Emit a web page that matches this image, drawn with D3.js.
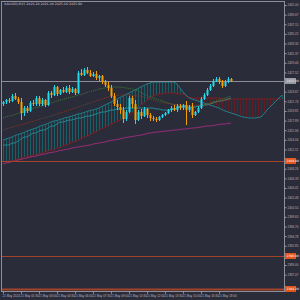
<!DOCTYPE html>
<html>
<head>
<meta charset="utf-8">
<script src="https://cdn.jsdelivr.net/npm/d3@7"></script>
<style>
  html, body { margin: 0; padding: 0; background: #2b2c3a; }
  svg { display: block; }
</style>
</head>
<body>
<div id="chart"></div>
<script>
// XAUUSD M15 bars
const opens  = [2421.2,2421.6,2422.0,2421.8,2422.8,2422.2,2421.6,2419.4,2420.4,2419.8,2421.4,2421.2,2422.4,2421.2,2422.0,2421.0,2423.4,2423.0,2424.6,2423.2,
                2424.0,2423.6,2424.4,2423.6,2424.2,2423.4,2427.4,2427.0,2428.0,2427.4,2426.8,2427.2,2426.4,2426.8,2425.6,2425.0,2424.4,2422.8,2421.2,2420.6,
                2420.0,2418.2,2419.6,2422.4,2421.2,2418.0,2419.6,2418.8,2420.2,2419.0,2418.4,2418.2,2418.0,2418.6,2419.0,2419.4,2420.0,2420.4,2420.0,2420.8,
                2420.4,2421.0,2420.0,2420.6,2419.0,2419.6,2420.4,2422.2,2423.0,2424.0,2424.8,2425.8,2426.2,2425.6,2424.8,2425.6,2426.2];
const highs  = [2421.8,2422.2,2422.4,2423.2,2423.4,2422.6,2422.4,2420.8,2420.8,2421.8,2422.0,2422.8,2422.8,2422.4,2422.2,2423.8,2423.8,2425.0,2424.8,2424.2,
                2424.6,2424.8,2425.0,2424.6,2424.4,2427.8,2428.2,2428.4,2428.6,2428.0,2427.6,2427.8,2427.0,2427.0,2426.0,2425.6,2425.0,2423.4,2422.0,2421.2,
                2420.6,2420.0,2422.8,2422.8,2422.0,2420.0,2420.2,2420.6,2420.4,2419.4,2418.8,2418.6,2418.8,2419.2,2419.6,2420.2,2420.8,2421.0,2421.2,2421.2,
                2421.2,2421.8,2421.0,2421.4,2419.8,2420.8,2422.6,2423.4,2424.4,2425.2,2426.2,2426.6,2426.6,2426.0,2426.0,2426.6,2426.4];
const lows   = [2420.8,2421.2,2421.4,2421.6,2422.0,2421.2,2418.0,2418.8,2419.4,2419.6,2420.8,2420.8,2420.8,2420.8,2420.6,2420.8,2422.4,2422.8,2422.8,2423.0,
                2423.4,2423.4,2423.2,2423.4,2423.0,2423.2,2426.8,2426.8,2427.2,2426.6,2426.6,2426.0,2425.8,2425.2,2424.6,2423.8,2422.4,2420.8,2420.0,2419.2,
                2417.4,2417.8,2419.4,2420.4,2417.2,2417.8,2418.2,2418.6,2418.4,2417.8,2417.8,2417.6,2417.8,2418.4,2418.8,2419.2,2419.6,2419.8,2419.6,2420.0,
                2420.0,2417.0,2419.6,2418.4,2418.8,2419.4,2420.2,2422.0,2422.8,2423.8,2424.6,2425.6,2425.2,2424.4,2424.6,2425.4,2425.6];
const closes = [2421.6,2422.0,2421.8,2422.8,2422.2,2421.6,2419.4,2420.4,2419.8,2421.4,2421.2,2422.4,2421.2,2422.0,2421.0,2423.4,2423.0,2424.6,2423.2,2424.0,
                2423.6,2424.4,2423.6,2424.2,2423.4,2427.4,2427.0,2428.0,2427.4,2426.8,2427.2,2426.4,2426.8,2425.6,2425.0,2424.4,2422.8,2421.2,2420.6,2420.0,
                2418.2,2419.6,2422.4,2421.2,2418.0,2419.6,2418.8,2420.2,2419.0,2418.4,2418.2,2418.0,2418.6,2419.0,2419.4,2420.0,2420.4,2420.0,2420.8,2420.4,
                2421.0,2420.0,2420.6,2419.0,2419.6,2420.4,2422.2,2423.0,2424.0,2424.8,2425.8,2426.2,2425.6,2424.8,2425.6,2426.2,2425.8];

// moving averages (dotted green, dotted brown, solid magenta) and kijun
const greenMA = [2418.4,2418.6,2418.8,2418.9,2419.1,2419.3,2419.5,2419.7,2419.9,2420.1,2420.3,2420.5,2420.6,2420.8,2421.0,2421.2,2421.4,
                 2421.6,2421.8,2422.0,2422.1,2422.3,2422.5,2422.6,2422.8,2423.0,2423.1,2423.3,2423.5,2423.7,2423.8,2424.0,2424.2,
                 2424.3,2424.4,2424.5,2424.5,2424.6,2424.6,2424.6,2424.5,2424.4,2424.3,2424.2,2424.0,2423.8,2423.5,2423.2,2422.9,2422.6,
                 2422.4,2422.2,2422.0,2421.8,2421.6,2421.4,2421.2,2421.1,2421.0,2420.9,2420.7,2420.6,2420.6,2420.6,2420.6,
                 2420.7,2420.9,2421.0,2421.2,2421.4,2421.6,2421.8,2422.0,2422.2,2422.4,2422.6,2422.8];
const brownMA = [2416.0,2416.2,2416.4,2416.5,2416.7,2416.9,2417.0,2417.2,2417.4,2417.6,2417.7,2417.9,2418.1,2418.3,2418.4,2418.6,2418.8,
                 2419.0,2419.2,2419.4,2419.6,2419.8,2420.0,2420.2,2420.4,2420.6,2420.8,2421.0,2421.2,2421.4,2421.6,2421.8,2422.0,
                 2422.2,2422.4,2422.6,2422.7,2422.8,2422.9,2423.0,2423.0,2423.0,2423.0,2422.9,2422.9,2422.8,2422.8,
                 2422.6,2422.4,2422.2,2422.0,2421.8,2421.6,2421.5,2421.4,2421.3,2421.2,2421.1,2421.0,2420.9,2420.8,2420.8,
                 2420.8,2420.9,2420.9,2421.0,2421.0,2421.1,2421.2,2421.3,2421.5,2421.6,2421.7,2421.8,2421.9,2422.0,2422.2];
const pinkMA  = [2409.2,2409.4,2409.5,2409.7,2409.8,2410.0,2410.1,2410.3,2410.4,2410.6,2410.7,2410.8,2411.0,2411.1,2411.2,2411.4,2411.5,
                 2411.6,2411.7,2411.9,2412.0,2412.1,2412.2,2412.4,2412.5,2412.6,2412.7,2412.8,2412.9,2413.0,2413.2,2413.3,2413.4,
                 2413.5,2413.6,2413.8,2413.9,2414.0,2414.1,2414.2,2414.4,2414.5,2414.6,2414.7,2414.8,2414.9,2415.0,2415.1,2415.3,2415.4,
                 2415.5,2415.6,2415.6,2415.7,2415.8,2415.8,2415.9,2416.0,2416.0,2416.1,2416.2,2416.2,2416.3,2416.4,2416.4,2416.5,2416.6,
                 2416.7,2416.8,2416.8,2416.9,2417.0,2417.1,2417.2,2417.2,2417.3,2417.4];
const kijun   = [2413.0,2413.0,2413.0,2413.4,2413.4,2413.8,2414.2,2414.6,2414.6,2415.0,2415.4,2415.4,2415.8,2416.0,2416.0,2416.4,2416.8,
                 2416.8,2417.2,2417.6,2417.6,2417.8,2418.0,2418.0,2418.2,2418.4,2418.4,2418.6,2418.8,2418.8,2419.0,2419.2,2419.4,
                 2419.6,2419.6,2419.8,2420.0,2420.0,2420.2,2420.2,2420.2,2420.4,2420.4,2420.4,2420.4,2420.4,2420.4,2420.4,2420.4,2420.4,
                 2420.4,2420.2,2420.2,2420.0,2420.0,2420.0,2420.0,2420.2,2420.4,2420.6,2420.8,2420.8,2420.6,2420.6,2420.6,
                 2420.8,2420.8,2421.0,2421.0,2421.2,2421.4,2421.6,2421.8,2421.8,2422.0,2422.2,2422.4];

// ichimoku cloud, shifted 26 bars ahead
const spanA = [2414.0,2414.2,2414.4,2414.6,2414.9,2415.1,2415.3,2415.5,2415.8,2416.0,2416.2,2416.4,2416.7,2416.9,2417.1,2417.3,2417.6,
               2417.8,2417.9,2418.1,2418.3,2418.5,2418.6,2418.8,2419.0,2419.2,2419.3,2419.5,2419.7,2419.9,2420.0,2420.2,2420.4,
               2420.7,2421.0,2421.3,2421.6,2421.9,2422.2,2422.5,2422.8,2423.1,2423.4,2423.7,2424.0,2424.3,2424.6,
               2424.9,2425.2,2425.4,2425.6,2425.6,2425.6,2425.6,2425.6,2425.6,2425.6,2425.6,
               2425.2,2424.4,2423.6,2423.0,2422.4,2422.2,2422.0,2421.8,2421.6,2421.4,2421.2,2421.0,2420.8,
               2420.6,2420.4,2420.1,2419.8,2419.6,2419.4,2419.2,2419.0,2418.8,2418.6,
               2418.5,2418.4,2418.4,2418.4,2418.5,2418.6,2419.2,2420.0,2420.6,2421.2,2421.8,2422.4,2423.0];
const spanB = [2409.6,2409.6,2409.8,2409.8,2410.0,2410.2,2410.2,2410.6,2410.6,2410.8,2411.0,2411.0,2411.2,2411.4,2411.6,2411.8,2412.0,
               2412.0,2412.4,2412.4,2412.8,2413.0,2413.2,2413.6,2413.6,2414.0,2414.2,2414.6,2414.8,2415.0,2415.4,2415.6,2416.0,
               2416.2,2416.6,2416.8,2417.2,2417.4,2417.8,2418.0,2418.4,2418.6,2419.0,
               2419.4,2420.0,2420.4,2421.0,2421.4,2422.0,
               2422.4,2422.8,2423.0,2423.2,2423.2,2423.4,2423.4,2423.4,2423.4,
               2423.2,2423.2,2423.2,2422.8,2422.6,
               2422.4,2422.4,2422.4,2422.4,2422.4,2422.4,2422.4,2422.4,2422.4,2422.4,
               2422.2,2422.2,2422.2,2422.2,2422.2,2422.2,2422.2,2422.2,2422.2,2422.2,2422.2,
               2422.2,2422.2,2422.2,2422.2,2422.2,2422.2,2422.2,2422.2,2422.2,2422.2];

const priceTicks = [2441.00,2439.07,2437.15,2435.22,2433.30,2431.37,2429.44,2427.52,2425.59,2423.67,2421.74,2419.81,2417.89,2415.96,
                    2414.04,2412.11,2410.18,2408.26,2406.33,2404.41,2402.48,2400.55,2398.63,2396.70,2394.78,2392.85,2390.92,2389.00,2387.07];
const timeLabels = ["21 May 2024","21 May 01:30","21 May 03:00","21 May 04:30","21 May 06:00","21 May 07:30","21 May 09:00",
                    "21 May 10:30","21 May 12:00","21 May 13:30","21 May 15:00","21 May 16:30","21 May 18:00"];
const levels = [2409.8, 2390.8, 2384.2];
const lastPrice = 2425.8;
const title = "XAUUSD,M15  2426.20 2426.40 2425.60 2425.80";

// Size
const width = 300, height = 300;
const plotLeft = 1, plotRight = 284, plotTop = 1, plotBottom = 291;

const svg = d3.select("#chart").append("svg")
    .attr("width", width)
    .attr("height", height)
    .style("font-family", "DejaVu Sans, sans-serif");

svg.append("rect").attr("width", width).attr("height", height).attr("fill", "#2b2c3a");

// Scales
const x = d3.scaleLinear().domain([0, 93]).range([3, 282]);
const y = d3.scaleLinear().domain([2384.0, 2442.0]).range([290, 0]);

svg.append("clipPath").attr("id", "clip")
  .append("rect").attr("x", plotLeft).attr("y", plotTop)
  .attr("width", plotRight - plotLeft).attr("height", plotBottom - plotTop);

const plot = svg.append("g").attr("clip-path", "url(#clip)");

// Cloud hatch
const idx = d3.range(spanA.length);
plot.selectAll("line.hatch")
  .data(idx)
  .enter().append("line")
  .attr("x1", i => x(i) + 0.5).attr("x2", i => x(i) + 0.5)
  .attr("y1", i => y(spanA[i])).attr("y2", i => y(spanB[i]))
  .attr("stroke", i => spanA[i] >= spanB[i] ? "#175f67" : "#661c24")
  .attr("stroke-width", 1);

const line = arr => d3.line().x((d, i) => x(i)).y(d => y(d))(arr);

plot.append("path").attr("d", line(spanB)).attr("fill", "none").attr("stroke", "#7e1d21").attr("stroke-width", 1);
plot.append("path").attr("d", line(spanA)).attr("fill", "none").attr("stroke", "#1e7d85").attr("stroke-width", 1);

// Moving averages
plot.append("path").attr("d", line(pinkMA)).attr("fill", "none").attr("stroke", "#942d74").attr("stroke-width", 1);
plot.append("path").attr("d", line(kijun)).attr("fill", "none").attr("stroke", "#23858d").attr("stroke-width", 1);
plot.append("path").attr("d", line(brownMA)).attr("fill", "none").attr("stroke", "#7c3a2a")
  .attr("stroke-width", 1).attr("stroke-dasharray", "1,1");
plot.append("path").attr("d", line(greenMA)).attr("fill", "none").attr("stroke", "#3b7a38")
  .attr("stroke-width", 1).attr("stroke-dasharray", "1,1");

// Horizontal levels
plot.append("line").attr("x1", plotLeft).attr("x2", plotRight)
  .attr("y1", Math.round(y(lastPrice)) + 0.5).attr("y2", Math.round(y(lastPrice)) + 0.5)
  .attr("stroke", "#8d8d96").attr("stroke-width", 1);

plot.selectAll("line.level")
  .data(levels)
  .enter().append("line")
  .attr("x1", plotLeft).attr("x2", plotRight)
  .attr("y1", d => Math.round(y(d)) + 0.5).attr("y2", d => Math.round(y(d)) + 0.5)
  .attr("stroke", "#a3442a")
  .attr("stroke-width", (d, i) => i === 2 ? 2 : 1);

// Candles
const bars = d3.range(closes.length);
const up = i => closes[i] >= opens[i];
const candleColor = i => up(i) ? "#22d8ec" : "#f5a000";

plot.selectAll("line.wick")
  .data(bars)
  .enter().append("line")
  .attr("x1", i => x(i) + 0.5).attr("x2", i => x(i) + 0.5)
  .attr("y1", i => y(highs[i])).attr("y2", i => y(lows[i]))
  .attr("stroke", candleColor)
  .attr("stroke-width", 1);

plot.selectAll("rect.body")
  .data(bars)
  .enter().append("rect")
  .attr("x", i => x(i) - 0.5)
  .attr("width", 2)
  .attr("y", i => y(Math.max(opens[i], closes[i])))
  .attr("height", i => Math.max(1, Math.abs(y(opens[i]) - y(closes[i]))))
  .attr("fill", candleColor);

// Frame
svg.append("rect")
  .attr("x", plotLeft + 0.5).attr("y", plotTop + 0.5)
  .attr("width", plotRight - plotLeft).attr("height", plotBottom - plotTop)
  .attr("fill", "none").attr("stroke", "#8e8e98").attr("stroke-width", 1);

// Price axis
const marks = [lastPrice].concat(levels);
const shownTicks = priceTicks.filter(t => marks.every(m => Math.abs(y(t) - y(m)) > 5));

const yAxis = svg.append("g")
  .attr("transform", `translate(${plotRight + 0.5},0)`)
  .call(d3.axisRight(y).tickValues(shownTicks).tickSize(2).tickPadding(1).tickFormat(d3.format(".2f")));
yAxis.select(".domain").remove();
yAxis.selectAll("line").attr("stroke", "#9a9aa4");
yAxis.selectAll("text").attr("fill", "#b4b4be").style("font-size", "3px");

// Highlighted price labels
const tags = [{ p: lastPrice, bg: "#9a9aa2", fg: "#f0f0f0" }]
  .concat(levels.map(p => ({ p, bg: "#e2561c", fg: "#ffffff" })));

const tag = svg.selectAll("g.tag")
  .data(tags)
  .enter().append("g")
  .attr("transform", d => `translate(${plotRight + 1},${Math.min(Math.round(y(d.p)), 289)})`);
tag.append("rect").attr("x", 0).attr("y", -3).attr("width", 11).attr("height", 6).attr("fill", d => d.bg);
tag.append("text").attr("x", 1.5).attr("y", 1)
  .text(d => d.p.toFixed(2))
  .attr("fill", d => d.fg)
  .style("font-size", "3px");

// Time axis
const labelIdx = d3.range(0, 73, 6);
const xAxis = svg.append("g")
  .attr("transform", `translate(0,${plotBottom + 0.5})`)
  .call(d3.axisBottom(x).tickValues(labelIdx).tickSize(2).tickPadding(1)
    .tickFormat((d, i) => timeLabels[i]));
xAxis.select(".domain").remove();
xAxis.selectAll("line").attr("stroke", "#9a9aa4");
xAxis.selectAll("text").attr("fill", "#b4b4be").style("font-size", "3px").attr("text-anchor", "start").attr("dx", "-1");

// Title
svg.append("text")
  .attr("x", 4).attr("y", 5)
  .text(title)
  .attr("fill", "#c4c4cc")
  .style("font-size", "3.2px");
</script>
</body>
</html>
